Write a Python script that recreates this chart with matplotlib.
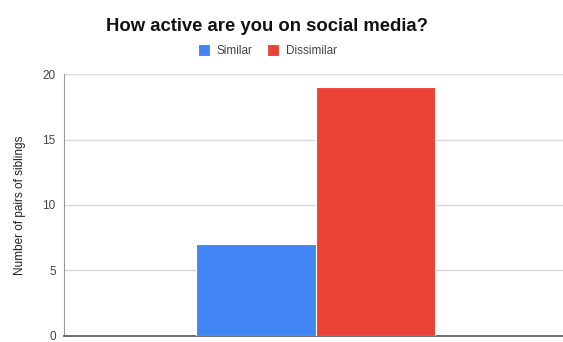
import matplotlib.pyplot as plt

plt.rcParams["font.family"] = ["Liberation Sans", "DejaVu Sans"]

# Survey answers: one question, two groups of sibling pairs
question = "How active are you on social media?"
groups = ["Similar", "Dissimilar"]
counts = [7, 19]
colors = ["#4285F4", "#EA4335"]
y_ticks = [0, 5, 10, 15, 20]

fig = plt.figure(figsize=(5.63, 3.42), dpi=100)
ax = fig.add_axes([0.1137, 0.019, 0.8863, 0.764])

bar_width = 0.24
center = 0.004
offsets = [center - bar_width / 2, center + bar_width / 2]
for name, value, color, off in zip(groups, counts, colors, offsets):
    ax.bar(off, value, width=bar_width, color=color, edgecolor="white",
           linewidth=0.8, label=name, zorder=3)

ax.set_xlim(-0.5, 0.5)
ax.set_ylim(0, 20)
ax.set_yticks(y_ticks)
ax.set_xticks([])
ax.grid(axis="y", color="#d9d9d9", linewidth=1, zorder=0)
ax.tick_params(axis="y", length=0, labelsize=8.5, labelcolor="#444444", pad=6)

for side in ["top", "right"]:
    ax.spines[side].set_visible(False)
ax.spines["left"].set_color("#999999")
ax.spines["bottom"].set_color("#555555")
ax.spines["bottom"].set_linewidth(1.2)

ax.set_ylabel("Number of pairs of siblings", fontsize=8.5, color="#222222", labelpad=12)

fig.text(0.475, 0.923, question, ha="center", va="center",
         fontsize=13.3, fontweight="bold", color="#111111")

fig.legend(loc="center", bbox_to_anchor=(0.475, 0.852), ncol=2, frameon=False,
           fontsize=8.5, handlelength=1.0, handleheight=1.2, columnspacing=1.2,
           handletextpad=0.6, labelcolor="#444444")

fig.savefig("out.png", dpi=100)
